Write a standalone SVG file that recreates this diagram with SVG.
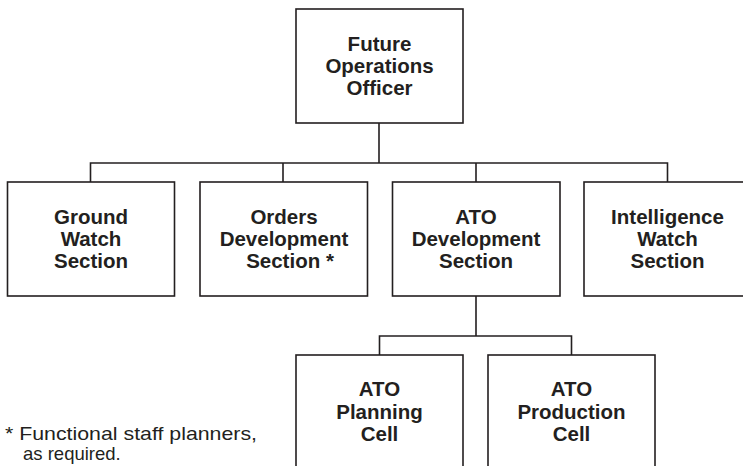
<svg xmlns="http://www.w3.org/2000/svg" width="743" height="466" viewBox="0 0 743 466">
<style>
.box{fill:#fff;stroke:#231f20;stroke-width:1.6}
.wire{fill:none;stroke:#231f20;stroke-width:1.6}
.lbl{font-family:"Liberation Sans",Arial,sans-serif;font-weight:bold;font-size:20.5px;fill:#231f20;text-anchor:middle}
.note{font-family:"Liberation Sans",Arial,sans-serif;font-size:18.5px;fill:#231f20}
</style>
<rect width="743" height="466" fill="#fff"/>
<g id="connectors">
<path class="wire" d="M379 123V163M90.5 182V163H667.5V182M283 163V182M476 163V182M476 296V336M379.5 355V336H571.5V355"/>
</g>
<g id="future-ops">
<rect class="box" x="296" y="9" width="167" height="114"/>
<text class="lbl" x="379.5" y="50.5">Future</text>
<text class="lbl" x="379.5" y="73">Operations</text>
<text class="lbl" x="379.5" y="95">Officer</text>
</g>
<g id="ground-watch">
<rect class="box" x="7.5" y="182" width="167" height="114"/>
<text class="lbl" x="91" y="224">Ground</text>
<text class="lbl" x="91" y="246">Watch</text>
<text class="lbl" x="91" y="268">Section</text>
</g>
<g id="orders-dev">
<rect class="box" x="200" y="182" width="167.5" height="114"/>
<text class="lbl" x="284" y="224">Orders</text>
<text class="lbl" x="284" y="246">Development</text>
<text class="lbl" x="290" y="268">Section *</text>
</g>
<g id="ato-dev">
<rect class="box" x="392.5" y="182" width="167.5" height="114"/>
<text class="lbl" x="476" y="224">ATO</text>
<text class="lbl" x="476" y="246">Development</text>
<text class="lbl" x="476" y="268">Section</text>
</g>
<g id="intel-watch">
<rect class="box" x="584" y="182" width="167" height="114"/>
<text class="lbl" x="667.5" y="224">Intelligence</text>
<text class="lbl" x="667.5" y="246">Watch</text>
<text class="lbl" x="667.5" y="268">Section</text>
</g>
<g id="ato-planning">
<rect class="box" x="296" y="355" width="167" height="130"/>
<text class="lbl" x="379.5" y="396">ATO</text>
<text class="lbl" x="379.5" y="418.5">Planning</text>
<text class="lbl" x="379.5" y="440.5">Cell</text>
</g>
<g id="ato-production">
<rect class="box" x="488" y="355" width="167" height="130"/>
<text class="lbl" x="571.5" y="396">ATO</text>
<text class="lbl" x="571.5" y="418.5">Production</text>
<text class="lbl" x="571.5" y="440.5">Cell</text>
</g>
<g id="footnote">
<text class="note" x="5" y="440" textLength="252" lengthAdjust="spacingAndGlyphs">* Functional staff planners,</text>
<text class="note" x="23" y="460">as required.</text>
</g>
</svg>
